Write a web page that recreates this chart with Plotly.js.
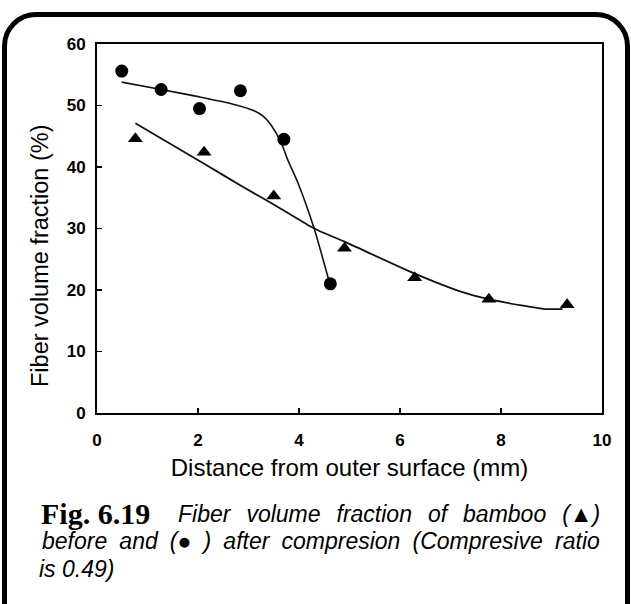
<!DOCTYPE html>
<html>
<head>
<meta charset="utf-8">
<script src="https://cdn.plot.ly/plotly-3.0.1.min.js"></script>
<style>
  html, body { margin: 0; padding: 0; background: #fff; width: 631px; height: 604px; overflow: hidden; }
  #frame { position: absolute; left: 2px; top: 12px; width: 618px; height: 620px;
           border: 5px solid #000; border-radius: 34px; box-sizing: content-box; }
  #chart { position: absolute; left: 0; top: 0; width: 631px; height: 604px; }
</style>
</head>
<body>
<div id="frame"></div>
<div id="chart"></div>
<script>
// Measured points: before compression (triangles)
const beforeX = [0.76, 2.12, 3.50, 4.90, 6.29, 7.76, 9.31];
const beforeY = [44.6, 42.4, 35.3, 26.8, 22.0, 18.5, 17.6];
// Measured points: after compression (circles)
const afterX = [0.49, 1.27, 2.03, 2.84, 3.70, 4.62];
const afterY = [55.6, 52.6, 49.5, 52.4, 44.5, 21.0];
// Fitted curves
const beforeFitX = [0.76, 2.13, 2.86, 3.50, 4.30, 4.89, 6.28, 7.22, 7.76, 8.40, 8.87, 9.22];
const beforeFitY = [47.1, 40.5, 36.9, 33.9, 30.0, 27.9, 22.7, 19.7, 18.5, 17.5, 16.9, 16.9];
const afterFitX = [0.49, 1.27, 2.03, 2.66, 3.10, 3.30, 3.45, 3.65, 3.78, 3.98, 4.30, 4.58];
const afterFitY = [53.8, 52.6, 51.4, 50.3, 49.2, 48.2, 46.8, 43.9, 41.1, 37.4, 30.0, 21.9];
const xTicks = [0, 2, 4, 6, 8, 10];
const yTicks = [0, 10, 20, 30, 40, 50, 60];
const captionFig = 'Fig. 6.19';
const captionLines = [
  ['Fiber', 'volume', 'fraction', 'of', 'bamboo', '(▲)'],
  ['before', 'and', '(●', ')', 'after', 'compresion', '(Compresive', 'ratio'],
  ['is', '0.49)']
];

const L = 97, R = 602, T = 44, B = 413, W = 631, H = 604;
const px = v => (v - L) / (R - L);
const py = v => (B - v) / (B - T);

const traces = [
  { x: afterFitX, y: afterFitY, mode: 'lines', line: { color: '#111', width: 1.6, shape: 'spline', smoothing: 0.6 }, hoverinfo: 'skip', showlegend: false },
  { x: beforeFitX, y: beforeFitY, mode: 'lines', line: { color: '#111', width: 1.8, shape: 'spline', smoothing: 0.6 }, hoverinfo: 'skip', showlegend: false },
  { x: afterX, y: afterY, mode: 'markers', name: 'after compression', marker: { symbol: 'circle', size: 13, color: '#000' }, showlegend: false },
  { x: beforeX, y: beforeY, mode: 'markers', name: 'before compression', marker: { symbol: 'triangle-up', size: 13, color: '#000' }, showlegend: false }
];

const sans = 'Liberation Sans, Arial, Helvetica, sans-serif';
const tickFont = { family: sans, size: 17, color: '#000', weight: 'bold' };
const capFont = { family: sans, size: 23, color: '#000' };
const layout = {
  width: W, height: H,
  margin: { l: L, r: W - R, t: T, b: H - B },
  paper_bgcolor: 'rgba(0,0,0,0)', plot_bgcolor: 'rgba(0,0,0,0)',
  showlegend: false,
  xaxis: {
    range: [0, 10], tickvals: xTicks, ticktext: xTicks.map(String),
    showgrid: false, zeroline: false, showline: true, mirror: true, linecolor: '#000', linewidth: 2,
    ticks: 'inside', ticklen: 5, tickwidth: 1.5, tickcolor: '#000',
    tickfont: tickFont, ticklabelstandoff: 11,
    title: { text: 'Distance from outer surface (mm)', font: { family: sans, size: 24, color: '#000' }, standoff: 10 }
  },
  yaxis: {
    range: [0, 60], tickvals: yTicks, ticktext: yTicks.map(String),
    showgrid: false, zeroline: false, showline: true, mirror: true, linecolor: '#000', linewidth: 2,
    ticks: 'inside', ticklen: 5, tickwidth: 1.5, tickcolor: '#000',
    tickfont: tickFont, ticklabelstandoff: 6,
    title: { text: '' }
  },
  annotations: [
    { xref: 'paper', yref: 'paper', x: px(40), y: py(256), text: 'Fiber volume fraction (%)', textangle: -90,
      showarrow: false, xanchor: 'center', yanchor: 'middle',
      font: { family: sans, size: 23.5, color: '#000' } },
    { xref: 'paper', yref: 'paper', x: px(40), y: py(513), xanchor: 'left', yanchor: 'middle', showarrow: false, align: 'left', borderpad: 0,
      text: '<b>' + captionFig + '</b>',
      font: { family: 'Liberation Serif, Times New Roman, serif', size: 30, color: '#000' } },
    { xref: 'paper', yref: 'paper', x: px(601), y: py(514), xanchor: 'right', yanchor: 'middle', showarrow: false, align: 'right', borderpad: 0,
      text: '<i>' + captionLines[0].join(' \u2004\u200A') + '</i>', font: capFont },
    { xref: 'paper', yref: 'paper', x: px(601), y: py(541), xanchor: 'right', yanchor: 'middle', showarrow: false, align: 'right', borderpad: 0,
      text: '<i>' + captionLines[1].join(' \u2006\u200A') + '</i>', font: capFont },
    { xref: 'paper', yref: 'paper', x: px(38), y: py(569), xanchor: 'left', yanchor: 'middle', showarrow: false, align: 'left', borderpad: 0,
      text: '<i>' + captionLines[2].join(' ') + '</i>', font: capFont }
  ]
};

Plotly.newPlot('chart', traces, layout, { displayModeBar: false, staticPlot: true });
</script>
</body>
</html>
